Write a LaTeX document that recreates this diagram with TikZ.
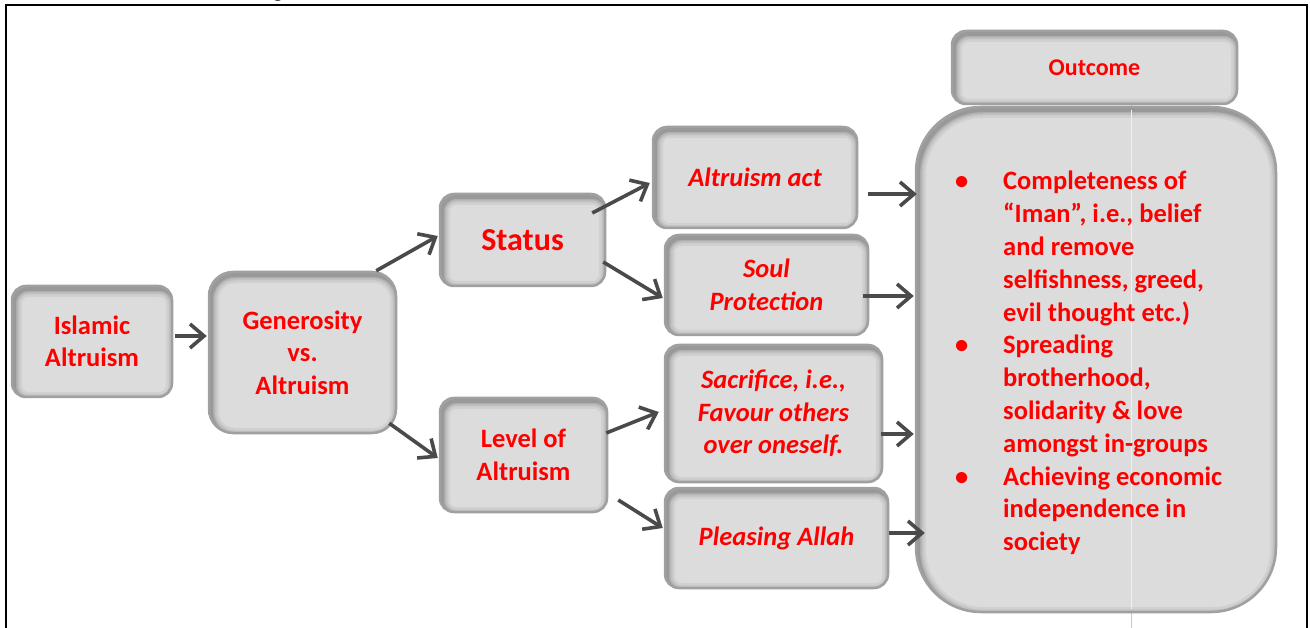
\documentclass[tikz,border=0pt]{standalone}
\usepackage{fontspec}
\setmainfont{Carlito}
\usetikzlibrary{arrows.meta,calc}
\definecolor{boxfill}{HTML}{DCDCDC}
\definecolor{boxline}{HTML}{A0A0A0}
\definecolor{arrcol}{HTML}{4A4A4A}
\definecolor{txtred}{HTML}{FF0000}
\begin{document}
\begin{tikzpicture}[x=1pt,y=-1pt,
  box/.style={draw=boxline, line width=2.5pt, fill=boxfill, rounded corners=#1,
    align=center, text=txtred, inner sep=0pt,
    font=\bfseries\fontsize{26.5}{32.5}\selectfont,
    path picture={
      \foreach \w/\o in {16/0.05,11/0.07,7/0.09,4/0.12}{
        \draw[black, opacity=\o, line width=\w pt, rounded corners=#1]
          ([xshift=2pt,yshift=-3pt]path picture bounding box.south west) rectangle
          ([xshift=2pt,yshift=-3pt]path picture bounding box.north east);
      }
    }},
  itbox/.style={box=#1, font=\bfseries\itshape\fontsize{26.5}{32.5}\selectfont},
  arr/.style={draw=arrcol, line width=3.6pt, -{Straight Barb[length=14pt,width=24pt]}},
  frame/.style={line width=2.5pt, black}
]
\useasboundingbox (0,0) rectangle (1310,628);
\fill[white] (0,0) rectangle (1310,628);

% clipped caption fragment above the frame
\begin{scope}
  \clip (0,0) rectangle (1310,4.5);
  \node[font=\bfseries\fontsize{22}{22}\selectfont, anchor=base, inner sep=0pt] (cap) at (278,-2) {g};
\end{scope}

% frame
\draw[frame] (6,628) -- (6,5) -- (1307,5) -- (1307,628);

% thin guide line
\draw[line width=0.8pt, color={rgb,255:red,200;green,200;blue,200}] (1131,103) -- (1131,628);

% boxes
\node[box=14pt, minimum width=160pt, minimum height=111pt] (isl) at (92,341.5) {Islamic\\Altruism};
\node[box=24pt, minimum width=187pt, minimum height=161pt] (gen) at (302.5,352.5) {Generosity\\vs.\\Altruism};
\node[box=14pt, minimum width=165pt, minimum height=92pt, font=\bfseries\fontsize{32}{36}\selectfont] (status) at (522.5,240) {Status};
\node[box=14pt, minimum width=167pt, minimum height=114pt] (level) at (523.5,455) {Level of\\Altruism};
\node[itbox=14pt, minimum width=204pt, minimum height=101pt] (act) at (755,177.5) {Altruism act};
\node[itbox=14pt, minimum width=203pt, minimum height=100pt] (soul) at (766.5,285) {Soul\\Protection};
\node[itbox=14pt, minimum width=217pt, minimum height=137pt] (sac) at (773.5,413.5) {Sacrifice, i.e.,\\Favour others\\over oneself.};
\node[itbox=14pt, minimum width=223pt, minimum height=100pt] (plea) at (776.5,538) {Pleasing Allah};
\node[box=14pt, minimum width=285pt, minimum height=73pt, font=\bfseries\fontsize{24}{28}\selectfont] (outc) at (1094.5,67.5) {Outcome};
\node[box=65pt, minimum width=360pt, minimum height=505pt] (big) at (1096,359.5) {};

\draw[line width=0.8pt, color={rgb,255:red,240;green,240;blue,240}] (1131,110) -- (1131,609);

% outcome list
\node[anchor=base west, inner sep=0pt, text=txtred, font=\bfseries\fontsize{26.5}{32.8}\selectfont] (list) at (955,190) {%
\begin{tabular}[t]{@{}p{48pt}@{}l@{}}
\textbullet & Completeness of\\
 & “Iman”, i.e., belief\\
 & and remove\\
 & selfishness, greed,\\
 & evil thought etc.)\\
\textbullet & Spreading\\
 & brotherhood,\\
 & solidarity \& love\\
 & amongst in-groups\\
\textbullet & Achieving economic\\
 & independence in\\
 & society
\end{tabular}};

% connectors
\draw[arr] ($(isl.east)+(2,-5.5)$) -- ($(gen.west)+(-1,-16.5)$);
\draw[arr] ($(gen.north east)+(-21,0)$) -- ($(status.west)+(-1,-4)$);
\draw[arr] ($(gen.south east)+(-8,-11)$) -- ($(level.west)+(-1,3)$);
\draw[arr] ($(status.east)+(-14,-27)$) -- ($(act.west)+(-2,5.5)$);
\draw[arr] ($(status.east)+(-3,22)$) -- ($(soul.west)+(-1,13)$);
\draw[arr] ($(level.east)+(-2,-22)$) -- ($(sac.west)+(-5,-1.5)$);
\draw[arr] ($(level.east)+(10,45)$) -- ($(plea.west)+(-1,-10)$);
\draw[arr] ($(act.east)+(10,16.5)$) -- ($(big.west)+(2,-165.5)$);
\draw[arr] ($(soul.east)+(-6,11)$) -- ($(big.west)+(-1,-63.5)$);
\draw[arr] ($(sac.east)+(-2,20.5)$) -- ($(big.west)+(-1,74.5)$);
\draw[arr] ($(plea.east)+(0,-5)$) -- ($(big.west)+(10,173.5)$);
\end{tikzpicture}
\end{document}
